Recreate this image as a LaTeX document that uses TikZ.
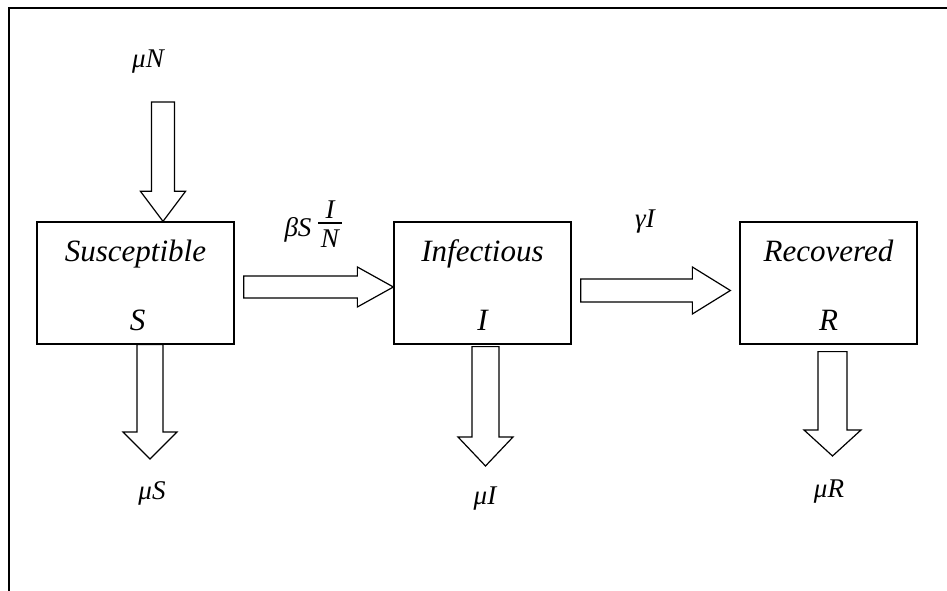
\documentclass[tikz,border=0pt]{standalone}
\usepackage{fontspec}
\setmainfont{Liberation Serif}
\usetikzlibrary{calc}
\tikzset{
  box/.style={draw, line width=1.3pt, minimum height=122pt, inner sep=0pt},
  boxname/.style={anchor=base, inner sep=0pt, font=\fontsize{31}{36}\selectfont\itshape},
  rate/.style={anchor=base, inner sep=0pt, font=\fontsize{27}{32}\selectfont\itshape},
  blk/.style={draw, line width=1.2pt, line join=miter}
}
% right-pointing block arrow: start centre, tip, shaft half, head half, head length
\newcommand{\blkright}[5]{%
  \draw[blk] let \p1=(#1), \p2=(#2) in
    (\x1,{\y1+#3pt}) -- ({\x2-#5pt},{\y1+#3pt}) -- ({\x2-#5pt},{\y1+#4pt}) --
    (\x2,\y1) -- ({\x2-#5pt},{\y1-#4pt}) -- ({\x2-#5pt},{\y1-#3pt}) --
    (\x1,{\y1-#3pt}) -- cycle;}
% down-pointing block arrow
\newcommand{\blkdown}[5]{%
  \draw[blk] let \p1=(#1), \p2=(#2) in
    ({\x1-#3pt},\y1) -- ({\x1-#3pt},{\y2+#5pt}) -- ({\x1-#4pt},{\y2+#5pt}) --
    (\x1,\y2) -- ({\x1+#4pt},{\y2+#5pt}) -- ({\x1+#3pt},{\y2+#5pt}) --
    ({\x1+#3pt},\y1) -- cycle;}
\begin{document}
\begin{tikzpicture}[x=1pt,y=1pt]
\useasboundingbox (0,0) rectangle (947,591);
% frame
\draw[line width=1.3pt] (9,0) -- (9,583) -- (947,583);
% compartments
\node[box, minimum width=197pt] (S) at (135.5,308) {};
\node[box, minimum width=177pt] (I) at (482.5,308) {};
\node[box, minimum width=177pt] (R) at (828.5,308) {};
\node[boxname] (Sname) at ([yshift=-40pt]S.north) {Susceptible};
\node[boxname] (Sl) at ([xshift=2pt,yshift=14pt]S.south) {S};
\node[boxname] (Iname) at ([yshift=-40pt]I.north) {Infectious};
\node[boxname] (Il) at ([yshift=14pt]I.south) {I};
\node[boxname] (Rname) at ([yshift=-40pt]R.north) {Recovered};
\node[boxname] (Rl) at ([yshift=14pt]R.south) {R};
% rate labels
\node[rate] (muN) at (148,523) {μN};
\node[rate] (muS) at (152,91) {μS};
\node[rate] (muI) at (485,86) {μI};
\node[rate] (muR) at (829,93) {μR};
\node[rate] (bS) at (298,354) {βS};
\node[rate, anchor=center] (fI) at (330,381) {I};
\node[rate, anchor=center] (fN) at (330,352) {N};
\draw[line width=1.2pt] (318,368) -- (342,368);
\node[rate] (gI) at (645,363) {γI};
% connector end points
\coordinate (inN) at ([xshift=15pt]muN.south |- 0,489);
\coordinate (inNt) at ([xshift=15pt]S.north);
\coordinate (si0) at ([xshift=9pt,yshift=-4pt]S.east);
\coordinate (si1) at ([yshift=-4pt]I.west);
\coordinate (ir0) at ([xshift=9pt,yshift=-7.5pt]I.east);
\coordinate (ir1) at ([xshift=-9pt,yshift=-7.5pt]R.west);
\coordinate (so0) at ([xshift=14.5pt]S.south);
\coordinate (so1) at (so0 |- 0,132);
\coordinate (io0) at ([xshift=3pt,yshift=-2pt]I.south);
\coordinate (io1) at (io0 |- 0,125);
\coordinate (ro0) at ([xshift=4pt,yshift=-7pt]R.south);
\coordinate (ro1) at (ro0 |- 0,135);
% block arrows
\blkdown{inN}{inNt}{11.5}{22.5}{30}
\blkright{si0}{si1}{11}{20}{36}
\blkright{ir0}{ir1}{11.5}{23.5}{38}
\blkdown{so0}{so1}{13}{27}{27}
\blkdown{io0}{io1}{13.5}{27.5}{29}
\blkdown{ro0}{ro1}{14.5}{28.5}{26}
\end{tikzpicture}
\end{document}
